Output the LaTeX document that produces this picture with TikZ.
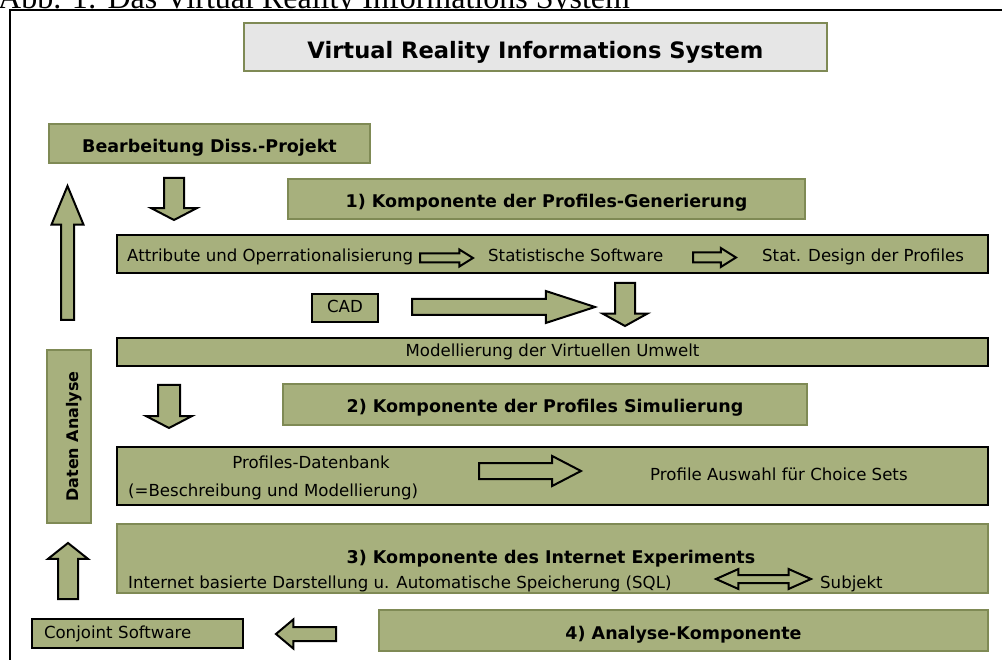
\documentclass[tikz,border=0pt]{standalone}
\usepackage{fontspec}
\setmainfont{DejaVu Sans}
\newfontfamily\captionfont{Liberation Serif}
\usetikzlibrary{shapes.arrows}

\definecolor{moss}{HTML}{A7B07D}
\definecolor{mossdark}{HTML}{7F8A55}
\definecolor{panel}{HTML}{E6E6E6}

\begin{document}
\begin{tikzpicture}[x=1pt, y=-1pt]
    \tikzstyle{plain} = [font=\fontsize{16.6}{20}\selectfont, inner sep=0pt]
    \tikzstyle{heading} = [font=\fontsize{17.5}{21}\selectfont\bfseries]
    \tikzstyle{stage} = [draw=mossdark, line width=2pt, fill=moss, inner sep=0pt, text depth=0pt]
    \tikzstyle{task} = [draw=black, line width=2pt, fill=moss, inner sep=0pt, text depth=0pt]
    \tikzstyle{blockarrow} = [single arrow, draw=black, line width=2pt, fill=moss, anchor=tail]
    \useasboundingbox (0,0) rectangle (1002,660);
    \clip (0,0) rectangle (1002,660);
    % caption, half hidden behind the frame
    \node[font=\captionfont\fontsize{32}{36}\selectfont, anchor=base west, inner sep=0pt] (caption) at (-2,8.5) {Abb. 1: Das Virtual Reality Informations System};
    \draw[line width=2pt, fill=white] (10,10.5) rectangle (1030,690);
    % title
    \node[stage, fill=panel, minimum width=583, minimum height=48, text height=24pt, font=\fontsize{22.6}{26}\selectfont\bfseries] (vris) at (535.5,47) {Virtual Reality Informations System};
    \node[stage, heading, minimum width=321, minimum height=39, text height=19pt] (diss) at (209.5,143.5) {Bearbeitung Diss.-Projekt};
    % 1) profiles generation
    \node[stage, heading, minimum width=517, minimum height=40, text height=18pt] (komp1) at (546.5,199) {1) Komponente der Profiles-Generierung};
    \node[task, minimum width=871, minimum height=38] (genrow) at (552.5,254) {};
    \node[plain, anchor=base west] (attr) at (127,262) {Attribute und Operrationalisierung};
    \node[plain, anchor=base west] (statsw) at (488,262) {Statistische Software};
    \node[plain, anchor=base west] (design) at (762,262) {Stat. Design der Profiles};
    \node[task, plain, minimum width=66, minimum height=28, text height=10pt] (cad) at (345,308) {CAD};
    \node[task, plain, minimum width=871, minimum height=28, text height=10pt] (modell) at (552.5,352) {Modellierung der Virtuellen Umwelt};
    % data analysis column
    \node[stage, rotate=90, minimum width=173, minimum height=44, text height=18pt, font=\fontsize{16}{19}\selectfont\bfseries] (daten) at (69,436.5) {Daten Analyse};
    % 2) profiles simulation
    \node[stage, heading, minimum width=524, minimum height=41, text height=17pt] (komp2) at (545,404.5) {2) Komponente der Profiles Simulierung};
    \node[task, minimum width=871, minimum height=58] (dbrow) at (552.5,476) {};
    \node[plain, anchor=base] (dbname) at (311,468) {Profiles-Datenbank};
    \node[plain, anchor=base west] (dbnote) at (128,496) {(=Beschreibung und Modellierung)};
    \node[plain, anchor=base west] (choice) at (650,480) {Profile Auswahl für Choice Sets};
    % 3) internet experiment
    \node[stage, minimum width=871, minimum height=69] (komp3) at (552.5,558.5) {};
    \node[heading, inner sep=0pt, anchor=base] (komp3title) at (551,563) {3) Komponente des Internet Experiments};
    \node[plain, anchor=base west] (storage) at (128,588) {Internet basierte Darstellung u. Automatische Speicherung (SQL)};
    \node[plain, anchor=base west] (subject) at (820,588) {Subjekt};
    % 4) analysis
    \node[task, plain, minimum width=211, minimum height=29, text height=9pt, text width=187pt, inner xsep=12pt, align=left] (conjoint) at (137.5,633.5) {Conjoint Software};
    \node[stage, heading, minimum width=609, minimum height=41, text height=17pt] (komp4) at (683.5,630.5) {4) Analyse-Komponente};
    % block arrows: inner sep gives half the shaft, head extend the rest
    \node[blockarrow, shape border rotate=270, inner sep=9pt, minimum height=42, single arrow head extend=13, single arrow tip angle=125] (down1) at (174,177) {};
    \node[blockarrow, shape border rotate=90, inner sep=5.5pt, minimum height=134, single arrow head extend=9.5, single arrow tip angle=45] (backup) at (67.5,321) {};
    \node[blockarrow, inner sep=3.5pt, minimum height=53, single arrow head extend=4, single arrow tip angle=64] (flow1) at (419,258) {};
    \node[blockarrow, inner sep=4pt, minimum height=43, single arrow head extend=4.5, single arrow tip angle=64] (flow2) at (692,257.5) {};
    \node[blockarrow, inner sep=7pt, minimum height=183, single arrow head extend=8, single arrow tip angle=36] (cadflow) at (411,307) {};
    \node[blockarrow, shape border rotate=270, inner sep=9pt, minimum height=43, single arrow head extend=12.5, single arrow tip angle=122] (down2) at (625,282) {};
    \node[blockarrow, shape border rotate=270, inner sep=10pt, minimum height=43, single arrow head extend=12, single arrow tip angle=125] (down3) at (169,384) {};
    \node[blockarrow, inner sep=7pt, minimum height=102, single arrow head extend=7, single arrow tip angle=55] (dbflow) at (478,471) {};
    \node[double arrow, draw=black, line width=2pt, fill=moss, inner sep=3pt, minimum height=95, double arrow head extend=6, double arrow tip angle=48] (exchange) at (763.5,579) {};
    \node[blockarrow, shape border rotate=90, inner sep=9pt, minimum height=56, single arrow head extend=10, single arrow tip angle=103] (up2) at (68,600) {};
    \node[blockarrow, shape border rotate=180, inner sep=6pt, minimum height=60, single arrow head extend=7.5, single arrow tip angle=80] (toconjoint) at (337,634) {};
\end{tikzpicture}
\end{document}
